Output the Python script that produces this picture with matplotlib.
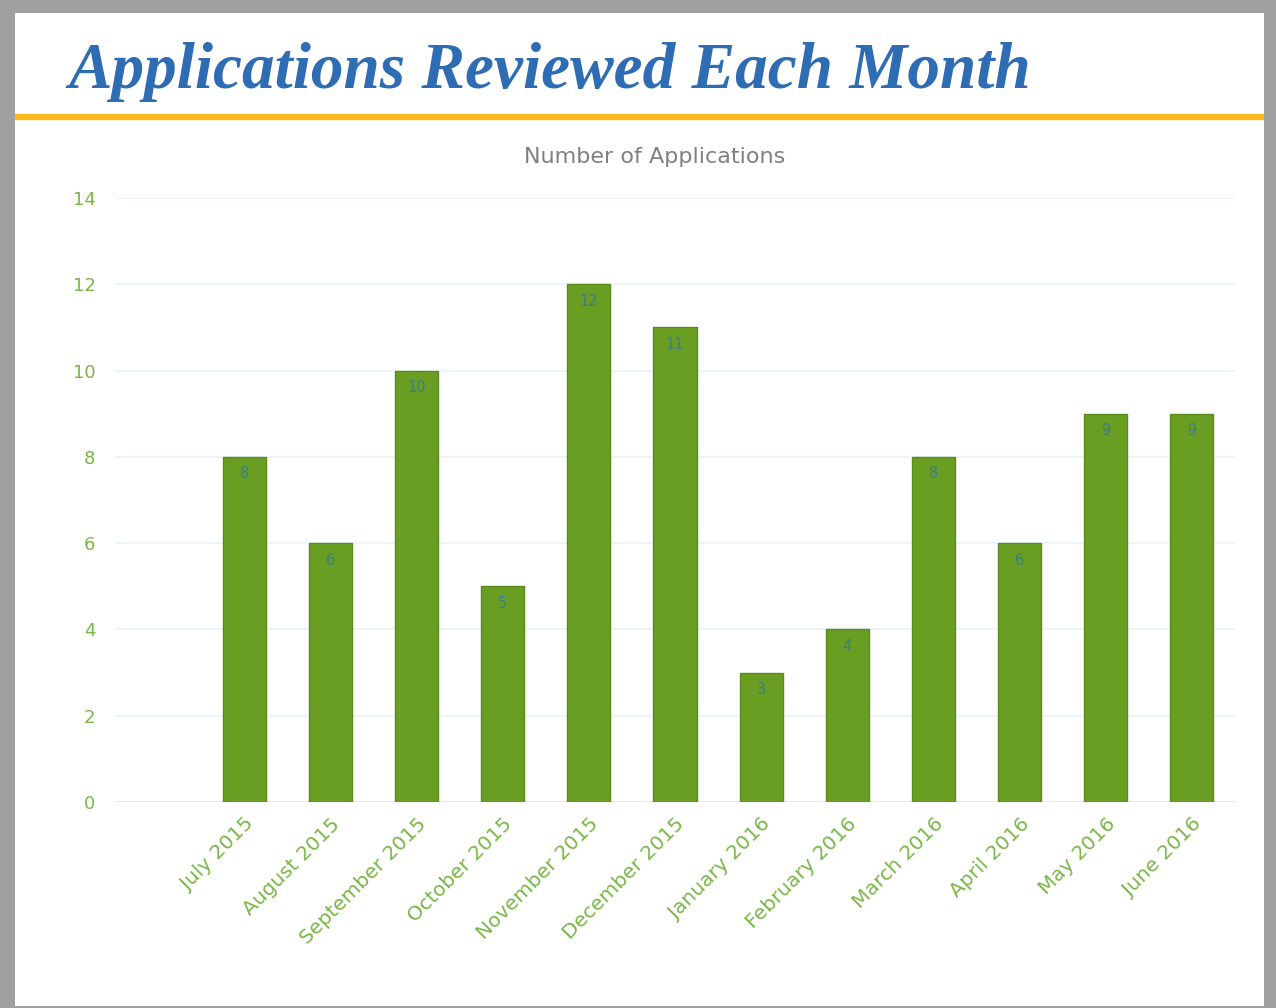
import matplotlib

matplotlib.use("Agg")
import matplotlib.pyplot as plt
from matplotlib.patches import Rectangle
from matplotlib.lines import Line2D

# first slot is an empty category in the source chart
months = ["", "July 2015", "August 2015", "September 2015", "October 2015",
          "November 2015", "December 2015", "January 2016", "February 2016",
          "March 2016", "April 2016", "May 2016", "June 2016"]
counts = [0, 8, 6, 10, 5, 12, 11, 3, 4, 8, 6, 9, 9]
yticks = [0, 2, 4, 6, 8, 10, 12, 14]

TITLE = "Applications Reviewed Each Month"
SUBTITLE = "Number of Applications"

BAR = "#6a9e22"
BAR_EDGE = "#5a8a1a"
TICK = "#7ab648"
LABEL = "#3e7d8a"
GRID = "#eaf3fa"

W, H = 1276, 1008
fig = plt.figure(figsize=(W / 100, H / 100), dpi=100, facecolor="#a0a0a0")

# white page on grey frame
fig.patches.append(Rectangle((15 / W, 2 / H), (1264 - 15) / W, 993 / H,
                             transform=fig.transFigure, facecolor="white",
                             edgecolor="none", zorder=-1))
# orange rule under the title
fig.lines.append(Line2D([15 / W, 1264 / W], [1 - 117 / H, 1 - 117 / H],
                        transform=fig.transFigure, color="#ffb81c", lw=4.5,
                        solid_capstyle="butt", zorder=-0.5))

fig.text(68 / W, 1 - 88 / H, TITLE, fontsize=47, color="#2e6db4",
         family="Liberation Serif", style="italic", weight="bold",
         ha="left", va="baseline")
fig.text(655 / W, 1 - 157 / H, SUBTITLE, fontsize=16, color="#808080",
         ha="center", va="center")

ax = fig.add_axes([115 / W, 1 - 802 / H, (1235 - 115) / W, (802 - 198) / H])
ax.set_facecolor("none")
x = list(range(len(months)))
edges = [BAR_EDGE if c else "none" for c in counts]
ax.bar(x, counts, width=0.5, color=BAR, edgecolor=edges, lw=1, zorder=3)
for xi, c in zip(x, counts):
    if c:
        ax.text(xi, c - 0.22, str(c), ha="center", va="top", fontsize=10.5,
                color=LABEL, zorder=4)

ax.set_xlim(-0.5, len(months) - 0.5)
ax.set_ylim(0, 14)
ax.set_yticks(yticks)
ax.set_yticklabels([str(v) for v in yticks])
ax.set_xticks(x)
ax.set_xticklabels(months, rotation=45, ha="right", rotation_mode="anchor")
ax.tick_params(axis="both", length=0, colors=TICK)
ax.tick_params(axis="y", pad=14, labelsize=13)
ax.tick_params(axis="x", pad=9, labelsize=14.5)
ax.grid(axis="y", color=GRID, lw=1.2, zorder=0)
for s in ax.spines.values():
    s.set_visible(False)
ax.axhline(0, color="#dde9f3", lw=1.2, zorder=2)

fig.savefig("out.png", dpi=100, facecolor=fig.get_facecolor())
